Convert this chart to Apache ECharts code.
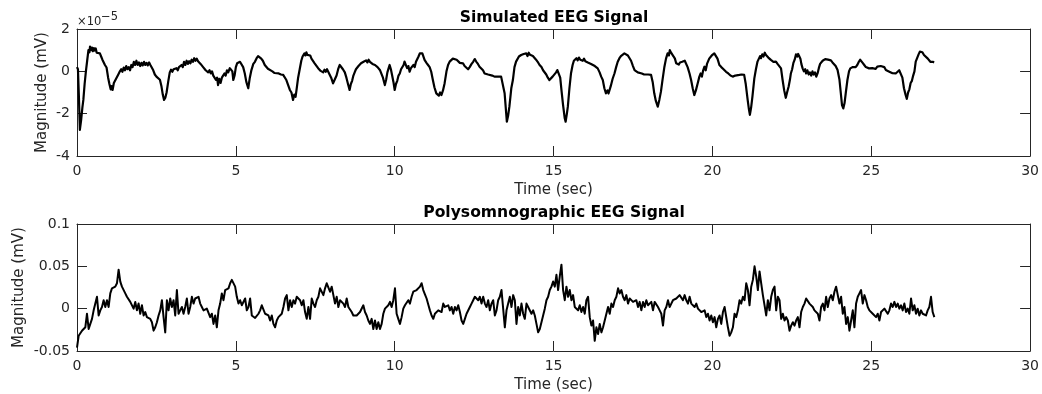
<!DOCTYPE html>
<html>
<head>
<meta charset="utf-8">
<script src="https://cdn.jsdelivr.net/npm/echarts@6/dist/echarts.min.js"></script>
<style>
  html, body { margin: 0; padding: 0; background: #fff; }
  #chart { width: 1042px; height: 394px; }
</style>
</head>
<body>
<div id="chart"></div>
<script>
// Simulated EEG: [time (s), magnitude in units of 1e-5 mV]
const simulatedSignal = [
  [0, 0.2], [0.03, 0.1], [0.06, -1.2], [0.09, -2.77], [0.13, -2.3], [0.17, -1.7], [0.20, -1.35], [0.24, -0.6],
  [0.28, 0], [0.32, 0.5], [0.36, 1.0], [0.39, 0.9], [0.41, 1.17], [0.44, 1.0], [0.47, 1.12], [0.50, 0.95],
  [0.53, 1.1], [0.56, 0.98], [0.59, 1.08], [0.62, 0.88], [0.65, 0.95], [0.68, 0.8], [0.72, 0.85], [0.76, 0.7],
  [0.80, 0.55], [0.83, 0.5], [0.88, 0.3], [0.93, 0.18], [0.98, -0.3], [1.02, -0.6], [1.06, -0.85], [1.09, -0.7],
  [1.12, -0.88], [1.16, -0.55], [1.19, -0.62], [1.23, -0.35], [1.27, -0.3], [1.30, -0.15], [1.35, 0.0], [1.39, 0.1],
  [1.43, -0.02], [1.47, 0.18], [1.51, 0.05], [1.55, 0.25], [1.59, 0.1], [1.63, 0.2], [1.67, 0.05], [1.71, 0.3],
  [1.75, 0.2], [1.79, 0.45], [1.83, 0.3], [1.87, 0.5], [1.91, 0.3], [1.95, 0.42], [1.99, 0.25], [2.03, 0.4],
  [2.07, 0.28], [2.11, 0.45], [2.15, 0.3], [2.19, 0.4], [2.23, 0.28], [2.27, 0.42], [2.31, 0.3], [2.35, 0.38],
  [2.40, 0.05], [2.45, -0.15], [2.50, -0.25], [2.56, -0.33], [2.61, -0.4], [2.66, -0.72], [2.70, -1.1], [2.74, -1.35],
  [2.78, -1.25], [2.82, -1.0], [2.87, -0.5], [2.92, -0.05], [2.96, 0.08], [3.0, -0.02], [3.04, 0.1], [3.08, 0.02],
  [3.13, 0.15], [3.17, 0.05], [3.21, 0.2], [3.25, 0.12], [3.29, 0.3], [3.33, 0.2], [3.37, 0.45], [3.41, 0.3],
  [3.45, 0.5], [3.49, 0.35], [3.53, 0.48], [3.57, 0.38], [3.61, 0.55], [3.65, 0.45], [3.69, 0.62], [3.73, 0.5],
  [3.77, 0.6], [3.81, 0.48], [3.85, 0.5], [3.89, 0.35], [3.93, 0.38], [3.97, 0.2], [4.01, 0.25], [4.05, 0.05],
  [4.09, 0.12], [4.13, -0.05], [4.17, 0.05], [4.21, -0.1], [4.25, 0], [4.29, -0.2], [4.33, -0.15], [4.37, -0.4],
  [4.41, -0.3], [4.44, -0.65], [4.48, -0.35], [4.52, -0.55], [4.56, -0.3], [4.60, -0.25], [4.64, -0.1], [4.68, -0.2],
  [4.72, 0.05], [4.76, -0.05], [4.81, 0.15], [4.85, 0.2], [4.89, 0.0], [4.92, -0.41], [4.96, -0.2], [5.0, 0.2],
  [5.04, 0.38], [5.09, 0.3], [5.13, 0.45], [5.18, 0.46], [5.23, 0.2], [5.28, -0.09], [5.33, -0.5], [5.39, -0.80],
  [5.44, -0.3], [5.49, 0.06], [5.55, 0.35], [5.60, 0.45], [5.65, 0.61], [5.70, 0.72], [5.75, 0.69], [5.80, 0.6],
  [5.85, 0.5], [5.91, 0.30], [5.96, 0.25], [6.01, 0.12], [6.07, 0.06], [6.15, 0], [6.22, -0.08], [6.28, -0.12],
  [6.35, -0.1], [6.42, -0.15], [6.49, -0.17], [6.55, -0.22], [6.59, -0.41], [6.64, -0.5], [6.70, -0.88], [6.75, -1.0],
  [6.80, -1.35], [6.84, -1.1], [6.88, -1.2], [6.91, -0.88], [6.96, -0.3], [7.01, 0.1], [7.06, 0.5], [7.10, 0.7],
  [7.13, 0.62], [7.16, 0.85], [7.19, 0.75], [7.22, 0.9], [7.25, 0.78], [7.28, 0.85], [7.31, 0.7], [7.34, 0.75],
  [7.38, 0.6], [7.43, 0.55], [7.48, 0.38], [7.53, 0.3], [7.59, 0.15], [7.63, 0.2], [7.67, 0.02], [7.71, 0.1],
  [7.75, -0.05], [7.79, 0.08], [7.83, -0.02], [7.87, 0.1], [7.90, 0.0], [7.95, -0.15], [8.0, -0.3], [8.06, -0.57],
  [8.11, -0.4], [8.17, -0.2], [8.22, 0.1], [8.27, 0.30], [8.32, 0.25], [8.37, 0.1], [8.43, -0.05], [8.48, -0.3],
  [8.53, -0.6], [8.58, -0.88], [8.62, -0.6], [8.66, -0.45], [8.70, -0.2], [8.74, -0.05], [8.78, 0.1], [8.82, 0.05],
  [8.86, 0.25], [8.90, 0.2], [8.94, 0.38], [8.98, 0.3], [9.02, 0.45], [9.06, 0.38], [9.10, 0.52], [9.14, 0.42],
  [9.18, 0.55], [9.22, 0.45], [9.26, 0.48], [9.30, 0.35], [9.34, 0.42], [9.38, 0.3], [9.42, 0.35], [9.46, 0.2],
  [9.50, 0.25], [9.54, 0.05], [9.58, 0.0], [9.63, -0.3], [9.69, -0.65], [9.73, -0.4], [9.77, -0.05], [9.81, 0.15],
  [9.84, 0.3], [9.88, 0.1], [9.92, -0.2], [9.96, -0.5], [10.0, -0.88], [10.04, -0.6], [10.08, -0.45], [10.12, -0.2],
  [10.16, -0.1], [10.20, 0.1], [10.24, 0.05], [10.28, 0.3], [10.31, 0.46], [10.35, 0.3], [10.39, 0.15], [10.43, 0.25],
  [10.47, -0.02], [10.51, 0.15], [10.55, 0.1], [10.59, 0.3], [10.63, 0.2], [10.67, 0.45], [10.71, 0.5], [10.75, 0.7],
  [10.79, 0.85], [10.83, 0.8], [10.87, 0.85], [10.94, 0.54], [11.0, 0.4], [11.05, 0.3], [11.10, 0.2], [11.15, -0.02],
  [11.20, -0.4], [11.25, -0.75], [11.31, -1.04], [11.35, -0.95], [11.39, -1.15], [11.43, -1.0], [11.47, -1.12], [11.52, -0.9],
  [11.57, -0.57], [11.63, 0], [11.68, 0.3], [11.73, 0.46], [11.78, 0.55], [11.83, 0.6], [11.89, 0.69], [11.95, 0.55],
  [12.0, 0.5], [12.05, 0.4], [12.10, 0.35], [12.15, 0.38], [12.20, 0.25], [12.25, 0.3], [12.31, 0.1], [12.36, 0.2],
  [12.42, 0.35], [12.47, 0.45], [12.52, 0.58], [12.57, 0.45], [12.62, 0.35], [12.67, 0.22], [12.72, 0.15], [12.78, 0.05],
  [12.83, -0.1], [12.88, -0.05], [12.94, -0.15], [13.0, -0.18], [13.07, -0.2], [13.14, -0.25], [13.20, -0.28], [13.25, -0.25],
  [13.30, -0.3], [13.35, -0.25], [13.40, -0.33], [13.46, -1.04], [13.53, -2.38], [13.57, -2.1], [13.61, -1.67], [13.67, -0.8],
  [13.72, -0.41], [13.77, 0.2], [13.82, 0.46], [13.87, 0.55], [13.91, 0.7], [13.95, 0.62], [13.98, 0.77], [14.02, 0.7],
  [14.06, 0.82], [14.10, 0.75], [14.14, 0.85], [14.18, 0.72], [14.22, 0.88], [14.26, 0.78], [14.30, 0.85], [14.35, 0.72],
  [14.40, 0.69], [14.45, 0.55], [14.50, 0.45], [14.56, 0.30], [14.62, 0.2], [14.67, 0.05], [14.72, -0.02], [14.77, -0.15],
  [14.82, -0.3], [14.87, -0.41], [14.92, -0.35], [14.97, -0.25], [15.03, -0.17], [15.08, -0.05], [15.12, 0.06], [15.17, 0.0],
  [15.21, -0.3], [15.25, -0.9], [15.30, -1.6], [15.35, -2.2], [15.38, -2.38], [15.42, -2.0], [15.45, -1.67], [15.50, -0.8],
  [15.55, -0.09], [15.60, 0.3], [15.64, 0.5], [15.68, 0.45], [15.72, 0.62], [15.76, 0.52], [15.80, 0.65], [15.84, 0.55],
  [15.88, 0.62], [15.92, 0.5], [15.96, 0.6], [16.0, 0.48], [16.04, 0.55], [16.08, 0.42], [16.13, 0.48], [16.18, 0.35],
  [16.24, 0.38], [16.30, 0.25], [16.35, 0.2], [16.39, 0.14], [16.45, -0.05], [16.50, -0.25], [16.55, -0.41], [16.60, -0.8],
  [16.65, -1.04], [16.70, -0.9], [16.73, -1.05], [16.76, -0.96], [16.80, -0.7], [16.86, -0.35], [16.92, -0.09], [16.97, 0.2],
  [17.02, 0.45], [17.07, 0.61], [17.12, 0.72], [17.17, 0.78], [17.23, 0.85], [17.28, 0.78], [17.34, 0.75], [17.39, 0.69],
  [17.44, 0.5], [17.50, 0.25], [17.55, 0.06], [17.60, -0.02], [17.65, -0.05], [17.70, -0.09], [17.78, -0.1], [17.85, -0.15],
  [17.91, -0.17], [17.98, -0.15], [18.03, -0.2], [18.07, -0.17], [18.12, -0.5], [18.17, -1.04], [18.22, -1.4], [18.28, -1.67],
  [18.33, -1.35], [18.38, -0.96], [18.43, -0.4], [18.49, 0.22], [18.54, 0.6], [18.59, 0.85], [18.63, 0.75], [18.66, 1.0],
  [18.70, 0.88], [18.74, 0.95], [18.78, 0.7], [18.82, 0.6], [18.86, 0.38], [18.90, 0.45], [18.94, 0.32], [18.98, 0.42],
  [19.01, 0.35], [19.05, 0.45], [19.09, 0.38], [19.13, 0.5], [19.17, 0.46], [19.22, 0.2], [19.28, -0.1], [19.33, -0.41],
  [19.38, -0.8], [19.43, -1.12], [19.48, -0.9], [19.54, -0.55], [19.59, -0.25], [19.63, -0.1], [19.67, -0.25], [19.71, 0.05],
  [19.75, 0.22], [19.79, 0.05], [19.83, 0.35], [19.87, 0.3], [19.90, 0.6], [19.94, 0.55], [19.98, 0.75], [20.02, 0.8],
  [20.06, 0.85], [20.11, 0.93], [20.16, 0.6], [20.22, 0.30], [20.28, 0.2], [20.35, 0.1], [20.43, -0.02], [20.50, -0.1],
  [20.57, -0.2], [20.64, -0.25], [20.72, -0.2], [20.78, -0.12], [20.85, -0.17], [20.92, -0.15], [21.0, -0.17], [21.05, -0.6],
  [21.11, -1.35], [21.15, -1.8], [21.18, -2.06], [21.22, -1.7], [21.26, -1.2], [21.32, -0.33], [21.37, 0.1], [21.42, 0.46],
  [21.47, 0.55], [21.50, 0.72], [21.53, 0.62], [21.57, 0.8], [21.61, 0.7], [21.65, 0.88], [21.68, 0.78], [21.72, 0.8],
  [21.76, 0.65], [21.80, 0.62], [21.84, 0.54], [21.88, 0.58], [21.92, 0.45], [21.96, 0.5], [22.0, 0.46], [22.05, 0.35],
  [22.11, 0.3], [22.16, 0.14], [22.21, -0.41], [22.26, -0.9], [22.31, -1.25], [22.35, -1.0], [22.40, -0.72], [22.44, -0.4],
  [22.47, -0.1], [22.51, 0.1], [22.55, 0.4], [22.59, 0.55], [22.63, 0.8], [22.67, 0.7], [22.70, 0.82], [22.73, 0.72],
  [22.77, 0.6], [22.80, 0.35], [22.84, 0.14], [22.88, 0.0], [22.92, 0.1], [22.95, -0.1], [22.99, 0.05], [23.03, -0.15],
  [23.07, -0.05], [23.11, -0.2], [23.15, 0.0], [23.19, -0.15], [23.23, -0.05], [23.27, -0.25], [23.31, -0.1], [23.35, 0.15],
  [23.39, 0.35], [23.43, 0.3], [23.47, 0.5], [23.51, 0.45], [23.55, 0.58], [23.60, 0.5], [23.64, 0.55], [23.68, 0.48],
  [23.73, 0.52], [23.78, 0.42], [23.83, 0.38], [23.88, 0.25], [23.94, 0.06], [24.0, -0.4], [24.04, -1.0], [24.08, -1.6],
  [24.12, -1.75], [24.16, -1.5], [24.20, -1.0], [24.25, -0.41], [24.30, 0.0], [24.34, 0.14], [24.38, 0.08], [24.42, 0.2],
  [24.46, 0.12], [24.51, 0.2], [24.56, 0.3], [24.61, 0.45], [24.65, 0.55], [24.69, 0.62], [24.73, 0.4], [24.78, 0.30],
  [24.83, 0.2], [24.88, 0.25], [24.93, 0.14], [24.98, 0.22], [25.03, 0.15], [25.08, 0.2], [25.14, 0.12], [25.19, 0.22],
  [25.24, 0.15], [25.30, 0.25], [25.35, 0.18], [25.41, 0.2], [25.46, 0.06], [25.52, 0.1], [25.57, -0.02], [25.62, 0.02],
  [25.67, -0.09], [25.72, -0.05], [25.77, -0.1], [25.82, -0.02], [25.88, 0.05], [25.93, 0.06], [25.98, -0.3], [26.03, -0.8],
  [26.08, -1.1], [26.12, -1.3], [26.16, -1.0], [26.20, -0.85], [26.24, -0.55], [26.28, -0.45], [26.32, -0.2], [26.36, 0.0],
  [26.40, 0.46], [26.45, 0.65], [26.49, 0.8], [26.53, 0.93], [26.57, 0.85], [26.61, 0.9], [26.66, 0.77], [26.72, 0.7],
  [26.78, 0.6], [26.82, 0.54], [26.86, 0.45], [26.90, 0.41], [26.94, 0.45], [26.98, 0.42]
];

// Polysomnographic EEG (mV), uniformly sampled, split into consecutive blocks
const sampleStep = 0.0524; // seconds between samples
const polyA = [
  -0.046, -0.032, -0.034, -0.026, -0.028, -0.022, -0.006, -0.024, -0.018, -0.012,
  -0.002, 0, 0.014, -0.008, -0.002, 0.002, 0.010, 0.002, 0.010, 0.002,
  0.018, 0.024, 0.022, 0.026, 0.030, 0.046, 0.032, 0.026, 0.024, 0.018,
  0.014, 0.012, 0.008, 0.010, 0, 0.008, -0.002, 0.006, -0.006, 0.004,
  -0.008, -0.004, -0.010, -0.008, -0.012, -0.016, -0.026, -0.022, -0.016, -0.008,
  -0.002, 0.010, -0.010, -0.028, 0.010, -0.002, 0.012, 0.002, 0.010, -0.008,
  0.022, -0.006, -0.002, 0.002, -0.006, 0.002, 0.012, -0.006, 0.002, 0.014,
  0.006, 0.012, 0.010, 0.014, 0.006, 0.002, -0.002, -0.004, 0, 0,
  -0.010, -0.006, -0.018, -0.008, -0.022, -0.002, 0.006, 0.018, 0.010, 0.022,
  0.020, 0.024, 0.030, 0.034, 0.032, 0.026, 0.014, 0.006, 0.010, 0.004,
  0.002, 0.012, -0.002, 0.002
];
const polyB = [
  0.012, -0.008, -0.010, -0.011, -0.012, -0.006, -0.002, 0.004, 0.002, -0.006,
  -0.006, -0.008, -0.014, -0.008, -0.018, -0.022, -0.014, -0.010, -0.008, -0.006,
  0.002, 0.012, 0.016, -0.002, 0.010, 0.002, 0.010, 0.006, 0.014, 0.016,
  0.010, 0.004, 0.010, -0.004, -0.012, 0.002, -0.012, 0.012, 0.006, 0.002,
  0.010, 0.014, 0.024, 0.026, 0.016, 0.024, 0.030, 0.032, 0.020, 0.026,
  0.016, 0.006, 0.014, 0.002, 0.010, 0.012, 0.006, 0.002, 0.012, 0.002,
  0, -0.004, -0.008, -0.010, -0.008, -0.008, -0.004, -0.002, 0.004, -0.004,
  -0.008, -0.014, -0.018, -0.012, -0.024, -0.014, -0.024, -0.016, -0.024, -0.018,
  -0.006, 0, -0.002, 0.004, 0.008, 0.002, 0.010, 0.024, -0.006, -0.012,
  -0.018, -0.010, 0, 0.004, 0.002, 0.010, 0.006, 0.014, 0.020, 0.018,
  0.022, 0.024, 0.026, 0.030, 0.022, 0.017, 0.012, 0.005, -0.002, -0.008,
  -0.012, -0.006, -0.008, -0.002, 0, -0.004, 0.006, 0.002, 0, 0.004,
  -0.002, 0.002, -0.006, 0.002, -0.002, 0.004, -0.004, -0.014, -0.018, -0.012,
  -0.006, -0.004, 0.002, 0.006, 0.010, 0.014, 0.012, 0.010, 0.014, 0.006,
  0.014, 0.006, 0.002, 0.010, -0.002, 0.006, 0.010, -0.008, -0.002, 0.010
];
const polyC = [
  0.014, 0.022, 0.024, -0.022, -0.002, 0.006, 0.014, 0.002, 0.016, 0.010,
  -0.018, 0.002, -0.008, 0.006, -0.006, -0.012, 0.006, 0.002, 0.004, -0.006,
  -0.002, -0.008, -0.018, -0.028, -0.024, -0.022, -0.008, 0, 0.010, 0.014,
  0.022, 0.026, 0.032, 0.026, 0.040, 0.022, 0.038, 0.052, 0.022, 0.010,
  0.026, 0.014, 0.022, 0.010, 0.016, 0.002, 0, -0.002, 0.004, -0.004,
  0.002, -0.006, 0.010, 0.014, -0.010, -0.020, -0.014, -0.038, -0.022, -0.030,
  -0.018, -0.028, -0.022, -0.014, -0.012, 0.002, -0.006, 0.006, 0.002, 0.010,
  0.014, 0.024, 0.018, 0.022, 0.014, 0.010, 0.016, 0.006, 0.012, 0.010,
  0.008, 0.006, 0.010, 0.002, 0.008, -0.002, 0.008, 0.002, 0.010, 0.004,
  0.002, 0.008, -0.002, 0.008, 0.006, 0.002, -0.002, -0.006, -0.020, -0.002,
  0.002, 0.010, 0.002, 0.006, 0.010, 0.008, 0.012, 0.010, 0.016, 0.014,
  0.010, 0.016, 0.010, 0.006, 0.014, 0.006, 0.008, 0.002, 0.006, 0,
  0.002, -0.004, -0.006, -0.002, -0.010, -0.006, -0.014, -0.008, -0.016, -0.010,
  -0.022, -0.012, -0.008, -0.018, -0.004, 0.002, 0.004, -0.022, -0.032, -0.028,
  -0.022, -0.006, -0.010, -0.002, 0.010, 0.006, 0.014, 0.010, 0.030, 0.022
];
const polyD = [
  0.004, 0.026, 0.034, 0.050, 0.038, 0.022, 0.044, 0.030, 0.016, 0.014,
  -0.008, 0.010, -0.002, 0.014, 0.022, 0.026, -0.002, 0.014, 0.010, -0.012,
  -0.006, -0.014, -0.010, -0.014, -0.026, -0.020, -0.016, -0.020, -0.014, -0.010,
  -0.022, -0.004, 0.002, 0.006, 0.012, 0.010, 0.006, 0.008, 0.002, -0.002,
  0, -0.006, -0.014, 0.002, 0.006, -0.002, 0.014, 0.002, 0.012, 0.016,
  0.010, 0.020, 0.026, 0.028, 0.006, 0.014, -0.006, 0.002, -0.018, -0.010,
  -0.026, -0.014, -0.002, -0.022, 0.006, 0.014, 0.018, 0.022, 0.006, 0.016,
  0.010, 0.002, -0.002, 0, -0.006, -0.008, -0.010, -0.006, -0.014, -0.004,
  -0.006, 0, -0.002, -0.006, -0.002, 0.006, 0.002, 0.008, 0.002, 0.006,
  0, 0.004, -0.002, 0.006, -0.004, 0, -0.006, 0.012, -0.002, 0.004,
  -0.006, 0, -0.008, -0.002, -0.006, -0.004, -0.008, -0.002, 0.002, 0.014,
  -0.004, -0.010
];

const xTicks = { min: 0, max: 30, interval: 5 };
const simTicks = { min: -4, max: 2, interval: 2 };
const polyTicks = { min: -0.05, max: 0.1, interval: 0.05 };

const polyData = [...polyA, ...polyB, ...polyC, ...polyD].map((v, i) => [i * sampleStep, v]);

const FONT = 'DejaVu Sans';
const AXIS_COLOR = '#262626';

// One side of a boxed axes frame; ticks point inward on every side
function boxAxis(gridIndex, position, ticks, opts) {
  const ax = {
    type: 'value',
    gridIndex,
    position,
    min: ticks.min,
    max: ticks.max,
    interval: ticks.interval,
    splitLine: { show: false },
    axisLine: { show: true, onZero: false, lineStyle: { color: AXIS_COLOR, width: 1 } },
    axisTick: { show: true, inside: true, length: 10, lineStyle: { color: AXIS_COLOR, width: 1 } },
    axisLabel: {
      show: !!opts.labels,
      color: AXIS_COLOR,
      fontFamily: FONT,
      fontSize: 14,
      margin: opts.labelMargin || 7,
      showMinLabel: true,
      showMaxLabel: true
    }
  };
  if (opts.name) {
    ax.name = opts.name;
    ax.nameLocation = 'middle';
    ax.nameGap = opts.nameGap;
    ax.nameMoveOverlap = false;
    ax.nameTextStyle = { color: AXIS_COLOR, fontFamily: FONT, fontSize: 15 };
  }
  return ax;
}

const chart = echarts.init(document.getElementById('chart'), null, { renderer: 'canvas' });

chart.setOption({
  animation: false,
  backgroundColor: '#ffffff',
  grid: [
    { left: 77, top: 29, width: 954, height: 127 },
    { left: 77, top: 224, width: 954, height: 127 }
  ],
  xAxis: [
    boxAxis(0, 'bottom', xTicks, { labels: true, labelMargin: 8, name: 'Time (sec)', nameGap: 27 }),
    boxAxis(0, 'top', xTicks, {}),
    boxAxis(1, 'bottom', xTicks, { labels: true, labelMargin: 8, name: 'Time (sec)', nameGap: 27 }),
    boxAxis(1, 'top', xTicks, {})
  ],
  yAxis: [
    boxAxis(0, 'left', simTicks, { labels: true, name: 'Magnitude (mV)', nameGap: 27 }),
    boxAxis(0, 'right', simTicks, {}),
    boxAxis(1, 'left', polyTicks, { labels: true, name: 'Magnitude (mV)', nameGap: 50 }),
    boxAxis(1, 'right', polyTicks, {})
  ],
  graphic: [
    { type: 'text', x: 554, y: 18, style: { text: 'Simulated EEG Signal', font: 'bold 15.6px "DejaVu Sans"', fill: '#000', align: 'center', verticalAlign: 'middle' } },
    { type: 'text', x: 554, y: 213, style: { text: 'Polysomnographic EEG Signal', font: 'bold 15.6px "DejaVu Sans"', fill: '#000', align: 'center', verticalAlign: 'middle' } },
    // exponent of the upper y axis
    { type: 'text', x: 77, y: 28, style: { text: '\u00d710', font: '11.5px "DejaVu Sans"', fill: AXIS_COLOR, align: 'left', verticalAlign: 'bottom' } },
    { type: 'text', x: 101, y: 23, style: { text: '\u22125', font: '11.5px "DejaVu Sans"', fill: AXIS_COLOR, align: 'left', verticalAlign: 'bottom' } }
  ],
  series: [
    {
      type: 'line',
      xAxisIndex: 0,
      yAxisIndex: 0,
      data: simulatedSignal,
      showSymbol: false,
      symbol: 'none',
      lineStyle: { color: '#000', width: 2.2, join: 'round' },
      silent: true
    },
    {
      type: 'line',
      xAxisIndex: 2,
      yAxisIndex: 2,
      data: polyData,
      showSymbol: false,
      symbol: 'none',
      lineStyle: { color: '#000', width: 2, join: 'round' },
      silent: true
    }
  ]
});
</script>
</body>
</html>
